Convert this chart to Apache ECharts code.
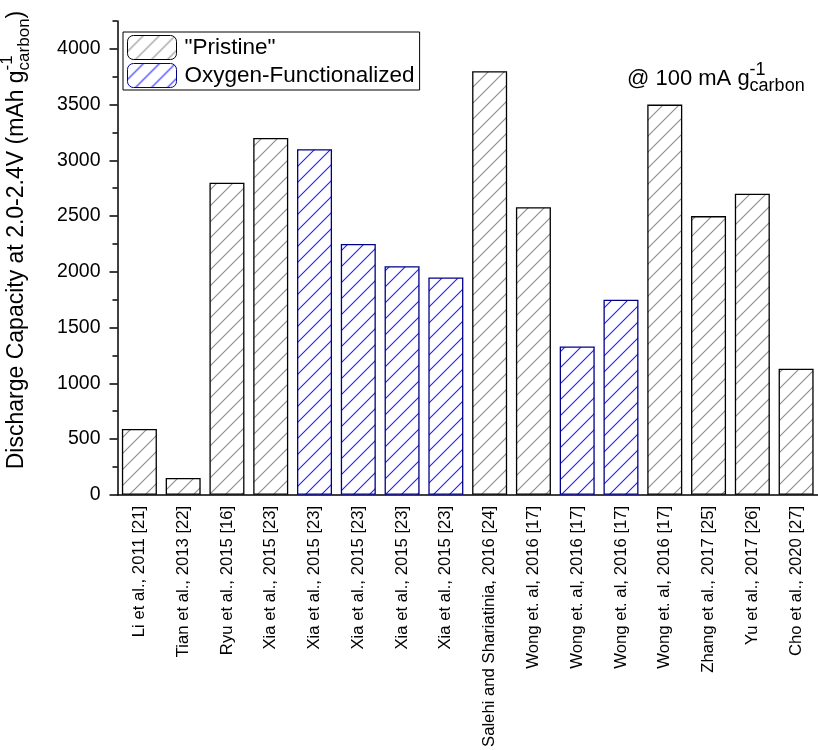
<!DOCTYPE html>
<html lang="en">
<head>
<meta charset="UTF-8">
<title>Discharge capacity</title>
<script src="https://cdn.jsdelivr.net/npm/echarts@6/dist/echarts.min.js"></script>
<style>html,body{margin:0;padding:0;background:#fff;}</style>
</head>
<body>
<div id="chart" style="width:818px;height:750px;"></div>
<script>
// data
var categories = [
    'Li et al., 2011 [21]', 'Tian et al., 2013 [22]', 'Ryu et al., 2015 [16]',
    'Xia et al., 2015 [23]', 'Xia et al., 2015 [23]', 'Xia et al., 2015 [23]',
    'Xia et al., 2015 [23]', 'Xia et al., 2015 [23]',
    'Salehi and Shariatinia, 2016 [24]', 'Wong et. al, 2016 [17]',
    'Wong et. al, 2016 [17]', 'Wong et. al, 2016 [17]', 'Wong et. al, 2016 [17]',
    'Zhang et al., 2017 [25]', 'Yu et al., 2017 [26]', 'Cho et al., 2020 [27]'
];
var pristine = [590, 150, 2800, 3200, null, null, null, null, 3800, 2580, null, null, 3500, 2500, 2700, 1130];
var oxygen = [null, null, null, null, 3100, 2250, 2050, 1950, null, null, 1330, 1750, null, null, null, null];
var yMajorTicks = [0, 500, 1000, 1500, 2000, 2500, 3000, 3500, 4000];
var yMinorTicks = [250, 750, 1250, 1750, 2250, 2750, 3250, 3750, 4250];

var FONT = '"Liberation Sans", Arial, sans-serif';

// diagonal hatch fill
function hatch(lineColor) {
    var s = 16;
    var c = document.createElement('canvas');
    c.width = s; c.height = s;
    var ctx = c.getContext('2d');
    ctx.fillStyle = '#ffffff';
    ctx.fillRect(0, 0, s, s);
    ctx.strokeStyle = lineColor;
    ctx.lineWidth = 1.1;
    ctx.beginPath();
    ctx.moveTo(-1, s + 1); ctx.lineTo(s + 1, -1);
    ctx.moveTo(-1, 1); ctx.lineTo(1, -1);
    ctx.moveTo(s - 1, s + 1); ctx.lineTo(s + 1, s - 1);
    ctx.stroke();
    return c;
}

var mctx = document.createElement('canvas').getContext('2d');
function textW(str, size) {
    mctx.font = size + 'px ' + FONT;
    return mctx.measureText(str).width;
}

// text with g^-1_carbon style units, laid out along local x
function unitText(pre, post, size, small) {
    var w1 = textW(pre, size);
    var wSup = textW('-1', small);
    var wSub = textW('carbon', small);
    var kids = [
        { type: 'text', x: 0, y: 0, style: { text: pre, fontSize: size, fontFamily: FONT, fill: '#000', verticalAlign: 'middle' } },
        { type: 'text', x: w1, y: -0.42 * size, style: { text: '-1', fontSize: small, fontFamily: FONT, fill: '#000', verticalAlign: 'middle' } },
        { type: 'text', x: w1, y: 0.32 * size, style: { text: 'carbon', fontSize: small, fontFamily: FONT, fill: '#000', verticalAlign: 'middle' } }
    ];
    var total = w1 + Math.max(wSup, wSub);
    if (post) {
        kids.push({ type: 'text', x: total, y: 0, style: { text: post, fontSize: size, fontFamily: FONT, fill: '#000', verticalAlign: 'middle' } });
        total += textW(post, size);
    }
    return { kids: kids, width: total };
}

var chart = echarts.init(document.getElementById('chart'));

var yTitle = unitText('Discharge Capacity at 2.0-2.4V (mAh g', ')', 23, 17);
var note = unitText('@ 100 mA g', '', 22, 18);

chart.setOption({
    animation: false,
    backgroundColor: '#fff',
    grid: { left: 117.5, top: 21, width: 703.5, height: 475.5 },
    legend: {
        orient: 'vertical',
        left: 123, top: 32,
        itemWidth: 49, itemHeight: 24, itemGap: 3,
        padding: [3, 5, 2, 4],
        borderColor: '#000', borderWidth: 1, borderRadius: 0,
        itemStyle: { borderWidth: 1 },
        textStyle: { fontSize: 22.5, color: '#000', fontFamily: FONT, padding: [0, 0, 0, 3] }
    },
    xAxis: {
        type: 'category',
        data: categories,
        axisLine: { lineStyle: { color: '#000', width: 1.5 } },
        axisTick: { alignWithLabel: true, length: 5, lineStyle: { color: '#000', width: 1.5 } },
        axisLabel: { interval: 0, rotate: 90, fontSize: 16.7, color: '#000', margin: 11, fontFamily: FONT }
    },
    yAxis: [{
        type: 'value', min: 0, max: 4250, interval: 250,
        splitLine: { show: false },
        axisLine: { show: true, lineStyle: { color: '#000', width: 1.5 } },
        axisTick: { show: true, length: 8, customValues: yMajorTicks, lineStyle: { color: '#000', width: 1.5 } },
        axisLabel: {
            customValues: yMajorTicks, fontSize: 19.5, color: '#000', margin: 17, fontFamily: FONT,
            formatter: function (v) { return String(v); }
        }
    }, {
        type: 'value', min: 0, max: 4250, interval: 250, position: 'left',
        splitLine: { show: false },
        axisLine: { show: false },
        axisLabel: { show: false },
        axisTick: { show: true, length: 5, customValues: yMinorTicks, lineStyle: { color: '#000', width: 1.5 } }
    }],
    series: [{
        name: '"Pristine"',
        type: 'bar',
        data: pristine,
        barWidth: 35,
        barGap: '-100%',
        itemStyle: { color: { image: hatch('#8c8c8c'), repeat: 'repeat' }, borderColor: '#000', borderWidth: 1.3 }
    }, {
        name: 'Oxygen-Functionalized',
        type: 'bar',
        data: oxygen,
        barWidth: 35,
        barGap: '-100%',
        itemStyle: { color: { image: hatch('#1f1fff'), repeat: 'repeat' }, borderColor: '#00008b', borderWidth: 1.3 }
    }],
    graphic: [{
        type: 'group',
        x: 17, y: 240 + yTitle.width / 2,
        rotation: Math.PI / 2,
        children: yTitle.kids
    }, {
        type: 'group',
        x: 627, y: 79,
        children: note.kids
    }]
});
</script>
</body>
</html>
